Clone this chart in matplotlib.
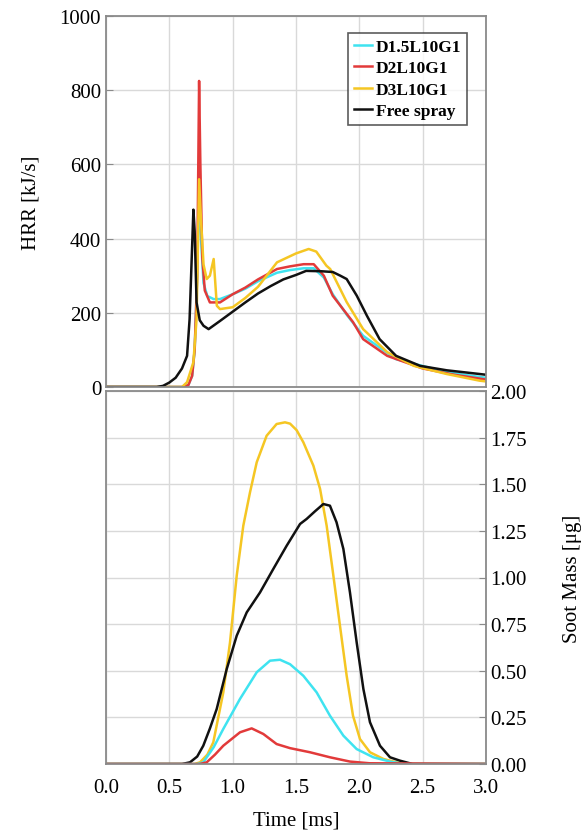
import matplotlib
matplotlib.use("Agg")
import matplotlib.pyplot as plt

plt.rcParams['font.family'] = ['Liberation Serif', 'DejaVu Serif']

# ---------------- HRR data (kJ/s) ----------------
t_free = [0, 0.40, 0.45, 0.50, 0.55, 0.60, 0.64, 0.66, 0.68, 0.69, 0.70, 0.715, 0.74, 0.77, 0.81,
          0.90, 1.0, 1.1, 1.2, 1.3, 1.4, 1.5, 1.58, 1.7, 1.79, 1.85, 1.9, 1.98, 2.06, 2.16, 2.29,
          2.48, 2.69, 2.95, 3.0]
hrr_free = [0, 0, 3, 12, 25, 50, 84, 183, 380, 478, 420, 228, 180, 165, 156,
            178, 203, 228, 252, 272, 290, 302, 313, 312, 310, 300, 291, 246, 192, 129, 84,
            57, 45, 35, 33]

t_d2 = [0, 0.60, 0.65, 0.68, 0.70, 0.72, 0.735, 0.745, 0.76, 0.78, 0.82, 0.9, 1.0, 1.1, 1.2,
        1.35, 1.45, 1.56, 1.64, 1.72, 1.79, 1.95, 2.03, 2.22, 2.5, 2.75, 3.0]
hrr_d2 = [0, 0, 5, 30, 100, 300, 825, 600, 350, 260, 228, 228, 250, 268, 290,
          318, 325, 331, 331, 300, 246, 175, 129, 84, 50, 33, 20]

t_d15 = [0, 0.60, 0.65, 0.68, 0.70, 0.72, 0.735, 0.75, 0.77, 0.80, 0.85, 0.9, 1.0, 1.1, 1.2,
         1.35, 1.45, 1.56, 1.64, 1.72, 1.79, 1.9, 2.03, 2.29, 2.69, 2.95, 3.0]
hrr_d15 = [0, 0, 5, 30, 100, 300, 540, 400, 280, 245, 237, 237, 250, 265, 285,
           308, 315, 320, 320, 295, 250, 195, 138, 75, 40, 27, 25]

t_d3 = [0, 0.60, 0.64, 0.69, 0.715, 0.735, 0.75, 0.77, 0.795, 0.82, 0.85, 0.875, 0.9, 1.0,
        1.1, 1.2, 1.35, 1.5, 1.6, 1.66, 1.74, 1.77, 1.9, 2.03, 2.22, 2.43, 2.69, 2.95, 3.0]
hrr_d3 = [0, 0, 13, 67, 183, 560, 450, 330, 291, 300, 345, 219, 210, 215,
          240, 270, 336, 360, 372, 365, 327, 318, 229, 156, 94, 57, 35, 17, 15]

# ---------------- Soot mass data (ug) ----------------
ts_d3 = [0, 0.70, 0.742, 0.80, 0.847, 0.926, 0.979, 1.032, 1.084, 1.137, 1.19, 1.268, 1.347,
         1.413, 1.453, 1.505, 1.558, 1.637, 1.69, 1.742, 1.795, 1.847, 1.90, 1.95, 2.005,
         2.084, 2.19, 2.295, 2.4, 3.0]
soot_d3 = [0, 0, 0.009, 0.05, 0.116, 0.384, 0.652, 1.01, 1.278, 1.457, 1.618, 1.76, 1.823,
           1.832, 1.825, 1.79, 1.725, 1.60, 1.475, 1.278, 1.01, 0.742, 0.473, 0.259, 0.134,
           0.063, 0.027, 0.009, 0, 0]

ts_free = [0, 0.60, 0.663, 0.72, 0.768, 0.82, 0.874, 0.953, 1.032, 1.111, 1.216, 1.321, 1.426,
           1.532, 1.584, 1.65, 1.716, 1.768, 1.82, 1.874, 1.926, 1.979, 2.032, 2.084, 2.163,
           2.242, 2.32, 2.42, 3.0]
soot_free = [0, 0, 0.009, 0.04, 0.098, 0.19, 0.295, 0.509, 0.688, 0.813, 0.92, 1.046, 1.17,
             1.287, 1.314, 1.355, 1.394, 1.385, 1.296, 1.153, 0.92, 0.652, 0.402, 0.224, 0.098,
             0.036, 0.018, 0, 0]

ts_d15 = [0, 0.72, 0.768, 0.85, 0.926, 1.058, 1.19, 1.295, 1.374, 1.453, 1.558, 1.663, 1.768,
          1.874, 1.979, 2.11, 2.242, 2.35, 3.0]
soot_d15 = [0, 0, 0.009, 0.09, 0.188, 0.349, 0.492, 0.554, 0.559, 0.535, 0.473, 0.384, 0.259,
            0.152, 0.08, 0.036, 0.013, 0, 0]

ts_d2 = [0, 0.74, 0.795, 0.86, 0.926, 1.058, 1.15, 1.242, 1.347, 1.453, 1.61, 1.768, 1.926,
         2.08, 3.0]
soot_d2 = [0, 0, 0.009, 0.05, 0.098, 0.17, 0.191, 0.161, 0.107, 0.085, 0.063, 0.036, 0.013,
           0.004, 0]

labels = ['D1.5L10G1', 'D2L10G1', 'D3L10G1', 'Free spray']
colors = ['#3FE3F0', '#E23A3A', '#F5C623', '#111111']

xticks = [0.0, 0.5, 1.0, 1.5, 2.0, 2.5, 3.0]
hrr_ticks = [0, 200, 400, 600, 800, 1000]
soot_ticks = [0.00, 0.25, 0.50, 0.75, 1.00, 1.25, 1.50, 1.75, 2.00]

W, H = 583, 837
fig = plt.figure(figsize=(W / 100, H / 100), dpi=100)

L, R = 106 / W, 486 / W
ax1 = fig.add_axes([L, 1 - 388 / H, R - L, (388 - 17) / H])
ax2 = fig.add_axes([L, 1 - 765 / H, R - L, (765 - 392) / H])

lw = 1.8
spine_c = '#8a8a8a'
grid_c = '#d9d9d9'
fs_tick = 15
fs_lab = 15

# top: HRR
for tt, vv, c, lab in [(t_d15, hrr_d15, colors[0], labels[0]),
                       (t_d2, hrr_d2, colors[1], labels[1]),
                       (t_d3, hrr_d3, colors[2], labels[2]),
                       (t_free, hrr_free, colors[3], labels[3])]:
    ax1.plot(tt, vv, color=c, lw=lw, label=lab)

ax1.set_xlim(0, 3)
ax1.set_ylim(0, 1000)
ax1.set_xticks(xticks)
ax1.set_yticks(hrr_ticks)
ax1.tick_params(axis='x', labelbottom=False, length=0)
ax1.tick_params(axis='y', direction='in', length=5, color=spine_c, labelsize=fs_tick)
ax1.set_ylabel('HRR [kJ/s]', fontsize=fs_lab, labelpad=14)
ax1.grid(True, color=grid_c, lw=1)
ax1.set_axisbelow(True)
for s in ax1.spines.values():
    s.set_color(spine_c)
    s.set_linewidth(1.3)

leg = ax1.legend(loc='upper right', bbox_to_anchor=(0.974, 0.978),
                 handlelength=1.0, handletextpad=0.25, borderpad=0.35, labelspacing=0.3,
                 frameon=True, fancybox=False, prop={'weight': 'bold', 'size': 12.5})
leg.get_frame().set_edgecolor('#333333')
leg.get_frame().set_linewidth(1.2)

# bottom: soot mass
for tt, vv, c in [(ts_d3, soot_d3, colors[2]),
                  (ts_free, soot_free, colors[3]),
                  (ts_d15, soot_d15, colors[0]),
                  (ts_d2, soot_d2, colors[1])]:
    ax2.plot(tt, vv, color=c, lw=lw, solid_joinstyle='round')

ax2.set_xlim(0, 3)
ax2.set_ylim(0, 2)
ax2.set_xticks(xticks)
ax2.set_xticklabels(['%.1f' % x for x in xticks])
ax2.set_yticks(soot_ticks)
ax2.set_yticklabels(['%.2f' % v for v in soot_ticks])
ax2.yaxis.tick_right()
ax2.yaxis.set_label_position('right')
ax2.tick_params(axis='y', direction='in', length=5, color=spine_c, labelsize=fs_tick, pad=3)
ax2.tick_params(axis='x', direction='in', length=0, labelsize=fs_tick, pad=10)
ax2.set_ylabel('Soot Mass [\u03bcg]', fontsize=fs_lab, labelpad=26)
ax2.set_xlabel('Time [ms]', fontsize=fs_lab, labelpad=10)
ax2.grid(True, color=grid_c, lw=1)
ax2.set_axisbelow(True)
for s in ax2.spines.values():
    s.set_color(spine_c)
    s.set_linewidth(1.3)

fig.savefig('out.png', dpi=100)
